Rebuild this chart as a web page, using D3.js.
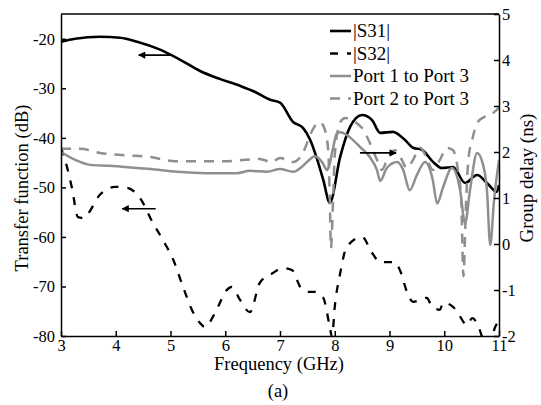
<!DOCTYPE html>
<html>
<head>
<meta charset="utf-8">
<script src="https://cdn.jsdelivr.net/npm/d3@7"></script>
<style>
  body { margin: 0; background: #fff; }
  text { font-family: "Liberation Serif", "Times New Roman", serif; }
</style>
</head>
<body>
<div id="chart"></div>
<script>
// |S31| (dB, left axis)
const s31Freq = [3.0, 3.26, 3.71, 4.08, 4.39, 4.81, 5.17, 5.54, 5.9, 6.27, 6.54, 6.82, 7.0, 7.24, 7.42, 7.55, 7.68, 7.79, 7.91, 8.1, 8.28, 8.5, 8.68, 8.83, 9.06, 9.28, 9.43, 9.59, 9.79, 9.96, 10.16, 10.38, 10.6, 10.78, 10.96, 11.0];
const s31 = [-20.6, -20.0, -19.6, -19.8, -20.6, -22.2, -24.2, -26.5, -28.1, -29.5, -30.7, -32.3, -32.9, -36.8, -38.0, -40.4, -44.4, -48.5, -53.1, -43.8, -37.8, -35.4, -36.4, -39.0, -38.8, -40.4, -42.0, -42.4, -44.8, -46.1, -45.9, -49.1, -47.5, -49.1, -50.9, -49.5];

// |S32| (dB, left axis)
const s32Freq = [3.0, 3.11, 3.2, 3.31, 3.42, 3.49, 3.71, 3.99, 4.21, 4.44, 4.68, 4.86, 5.05, 5.23, 5.39, 5.54, 5.63, 5.81, 6.03, 6.12, 6.27, 6.45, 6.63, 6.87, 7.04, 7.22, 7.37, 7.51, 7.64, 7.79, 7.91, 7.95, 8.0, 8.1, 8.22, 8.5, 8.68, 8.83, 9.1, 9.19, 9.32, 9.43, 9.68, 9.78, 9.92, 9.98, 10.16, 10.25, 10.42, 10.51, 10.65, 10.71, 10.82, 10.93, 11.0];
const s32 = [-42.0, -45.9, -50.1, -56.0, -56.2, -55.4, -51.5, -49.9, -50.1, -52.1, -57.2, -60.6, -64.6, -70.1, -74.7, -77.4, -78.2, -75.4, -70.7, -70.1, -72.7, -75.2, -69.3, -67.3, -66.3, -66.7, -70.1, -71.1, -71.1, -72.3, -78.2, -80.2, -74.1, -67.3, -62.0, -60.0, -63.2, -65.1, -65.1, -66.7, -71.1, -73.1, -72.3, -74.1, -74.7, -73.3, -74.1, -75.4, -77.8, -76.4, -78.8, -80.8, -81.8, -78.2, -76.8];

// Group delay, Port 1 to Port 3 (ns, right axis)
const gd13Freq = [3.0, 3.26, 3.53, 3.89, 4.21, 4.63, 5.12, 5.67, 6.21, 6.45, 6.76, 7.0, 7.24, 7.37, 7.49, 7.64, 7.77, 7.86, 7.91, 7.97, 8.04, 8.11, 8.22, 8.46, 8.64, 8.77, 8.83, 8.95, 9.14, 9.25, 9.37, 9.5, 9.65, 9.79, 9.87, 9.98, 10.14, 10.29, 10.38, 10.47, 10.6, 10.71, 10.78, 10.84, 10.91, 11.0];
const gd13 = [2.0, 1.83, 1.72, 1.7, 1.67, 1.63, 1.57, 1.54, 1.54, 1.59, 1.57, 1.63, 1.57, 1.65, 1.78, 1.91, 1.78, 1.61, 1.76, 2.09, 2.41, 2.43, 2.37, 2.11, 1.89, 1.61, 1.37, 1.65, 1.78, 1.61, 1.17, 1.5, 1.78, 1.39, 0.88, 1.24, 1.65, 1.17, 0.45, 1.17, 1.98, 1.72, 1.17, -0.02, 0.96, 1.83];

// Group delay, Port 2 to Port 3 (ns, right axis)
const gd23Freq = [3.0, 3.35, 3.71, 4.17, 4.63, 5.08, 5.54, 6.0, 6.36, 6.63, 6.85, 7.0, 7.24, 7.37, 7.46, 7.55, 7.64, 7.73, 7.82, 7.88, 7.91, 7.93, 7.97, 8.0, 8.1, 8.19, 8.37, 8.5, 8.64, 8.77, 8.86, 8.97, 9.1, 9.19, 9.32, 9.43, 9.56, 9.68, 9.79, 9.92, 10.05, 10.16, 10.25, 10.31, 10.35, 10.4, 10.44, 10.51, 10.6, 10.73, 10.87, 11.0];
const gd23 = [2.07, 2.07, 1.98, 1.93, 1.89, 1.8, 1.8, 1.8, 1.83, 1.85, 1.78, 1.87, 1.78, 1.89, 2.09, 2.37, 2.57, 2.65, 2.48, 2.04, 0.96, -0.09, 0.96, 1.93, 2.65, 2.74, 2.65, 2.52, 2.2, 1.83, 1.61, 1.87, 2.04, 1.91, 1.65, 1.83, 2.09, 1.87, 1.61, 1.83, 2.09, 2.04, 1.61, 0.96, -0.7, 0.96, 1.83, 2.26, 2.63, 2.76, 2.83, 2.96];

const xTicks = [3, 4, 5, 6, 7, 8, 9, 10, 11];
const dbTicks = [-80, -70, -60, -50, -40, -30, -20];
const nsTicks = [-2, -1, 0, 1, 2, 3, 4, 5];
const legendLabels = ["|S31|", "|S32|", "Port 1 to Port 3", "Port 2 to Port 3"];

const width = 541;
const height = 405;
const margin = { top: 14, right: 42, bottom: 69, left: 61 };
const gray = "#8f8f8f";

const svg = d3.select("#chart")
  .append("svg")
  .attr("width", width)
  .attr("height", height);

const x = d3.scaleLinear()
  .domain([3, 11])
  .range([margin.left, width - margin.right]);

const yDb = d3.scaleLinear()
  .domain([-80, -15])
  .range([height - margin.bottom, margin.top]);

const yNs = d3.scaleLinear()
  .domain([-2, 5])
  .range([height - margin.bottom, margin.top]);

svg.append("clipPath")
  .attr("id", "plot-clip")
  .append("rect")
  .attr("x", margin.left)
  .attr("y", margin.top)
  .attr("width", width - margin.left - margin.right)
  .attr("height", height - margin.top - margin.bottom);

const series = [
  { fx: s31Freq, v: s31, y: yDb, color: "#000", dash: null, w: 2.6 },
  { fx: s32Freq, v: s32, y: yDb, color: "#000", dash: "8,9", w: 2.3 },
  { fx: gd13Freq, v: gd13, y: yNs, color: gray, dash: null, w: 2.5 },
  { fx: gd23Freq, v: gd23, y: yNs, color: gray, dash: "10,8", w: 2.5 }
];

const plot = svg.append("g").attr("clip-path", "url(#plot-clip)");

series.forEach(s => {
  const line = d3.line()
    .x(d => x(d[0]))
    .y(d => s.y(d[1]))
    .curve(d3.curveMonotoneX);
  plot.append("path")
    .datum(s.fx.map((f, i) => [f, s.v[i]]))
    .attr("fill", "none")
    .attr("stroke", s.color)
    .attr("stroke-width", s.w)
    .attr("stroke-dasharray", s.dash)
    .attr("d", line);
});

// axes, ticks pointing inward
function xAxis(g) {
  g.attr("transform", `translate(0,${height - margin.bottom})`)
    .call(d3.axisBottom(x).tickValues(xTicks).tickSizeInner(-5).tickSizeOuter(0).tickPadding(3));
}
function yAxisLeft(g) {
  g.attr("transform", `translate(${margin.left},0)`)
    .call(d3.axisLeft(yDb).tickValues(dbTicks).tickSizeInner(-5).tickSizeOuter(0).tickPadding(6));
}
function yAxisRight(g) {
  g.attr("transform", `translate(${width - margin.right},0)`)
    .call(d3.axisRight(yNs).tickValues(nsTicks).tickSizeInner(-5).tickSizeOuter(0).tickPadding(3));
}

[xAxis, yAxisLeft, yAxisRight].forEach(fn => {
  const g = svg.append("g").call(fn);
  g.selectAll("text")
    .attr("font-size", 16.5)
    .attr("fill", "#000")
    .text(d => String(d).replace("−", "-"));
  g.selectAll("line, path").attr("stroke", "#000").attr("stroke-width", 1.5);
});

svg.append("line")
  .attr("x1", margin.left).attr("x2", width - margin.right)
  .attr("y1", margin.top).attr("y2", margin.top)
  .attr("stroke", "#000").attr("stroke-width", 1.5);

// axis titles
svg.append("text")
  .attr("x", 279)
  .attr("y", 370)
  .attr("text-anchor", "middle")
  .attr("font-size", 18.5)
  .text("Frequency (GHz)");

svg.append("text")
  .attr("x", 278)
  .attr("y", 397)
  .attr("text-anchor", "middle")
  .attr("font-size", 18.5)
  .text("(a)");

svg.append("text")
  .attr("transform", "translate(28,188) rotate(-90)")
  .attr("text-anchor", "middle")
  .attr("font-size", 18.5)
  .text("Transfer function (dB)");

svg.append("text")
  .attr("transform", "translate(533,178) rotate(-90)")
  .attr("text-anchor", "middle")
  .attr("font-size", 19)
  .text("Group delay (ns)");

// arrows
const defs = svg.append("defs");
defs.append("marker")
  .attr("id", "arrow")
  .attr("viewBox", "0 0 10 10")
  .attr("refX", 9).attr("refY", 5)
  .attr("markerWidth", 7).attr("markerHeight", 4.5)
  .attr("markerUnits", "strokeWidth")
  .attr("orient", "auto")
  .append("path")
  .attr("d", "M0,0 L10,5 L0,10 Z")
  .attr("fill", "#000");

function arrow(f0, f1, v, scale) {
  svg.append("line")
    .attr("x1", x(f0)).attr("x2", x(f1))
    .attr("y1", scale(v)).attr("y2", scale(v))
    .attr("stroke", "#000").attr("stroke-width", 1.6)
    .attr("marker-end", "url(#arrow)");
}
arrow(5.0, 4.42, -23.3, yDb);
arrow(4.73, 4.12, -54.3, yDb);
arrow(8.46, 9.12, 1.98, yNs);

// legend
const legend = svg.append("g");
series.forEach((s, i) => {
  const yy = 31 + i * 22.5;
  legend.append("line")
    .attr("x1", 330).attr("x2", 351)
    .attr("y1", yy).attr("y2", yy)
    .attr("stroke", s.color)
    .attr("stroke-width", s.w)
    .attr("stroke-dasharray", s.dash);
  legend.append("text")
    .attr("x", 353)
    .attr("y", yy + 6)
    .attr("font-size", 19)
    .text(legendLabels[i]);
});
</script>
</body>
</html>
